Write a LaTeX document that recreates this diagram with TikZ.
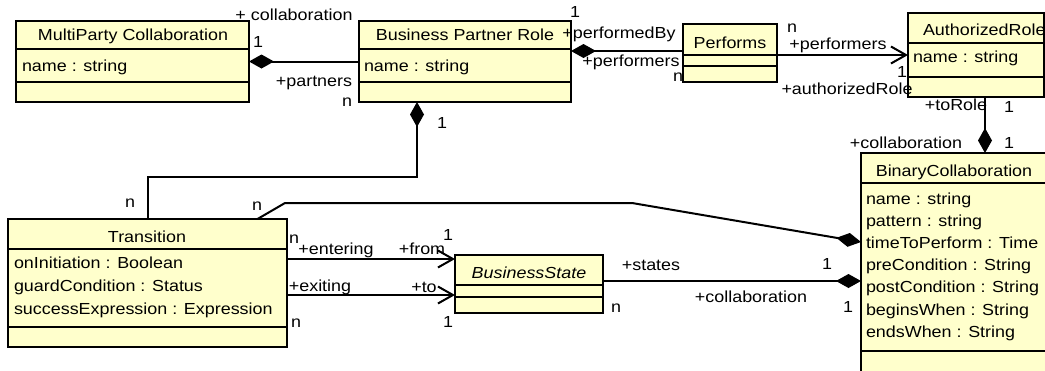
\documentclass[tikz,border=0pt]{standalone}
\usepackage{fontspec}
\setmainfont[FakeStretch=1.12]{Liberation Sans}
\usetikzlibrary{positioning, arrows.meta}
\definecolor{classfill}{RGB}{255,255,204}

\begin{document}
\begin{tikzpicture}[x=1pt, y=-1pt, line width=2pt,
    font=\fontsize{16}{19}\selectfont,
    classbox/.style={draw, fill=classfill, anchor=north west, inner sep=0, outer sep=0},
    title/.style={anchor=base, inner sep=0},
    attr/.style={anchor=base west, inner sep=0},
    role/.style={inner sep=0, text height=11pt, text depth=0pt},
    comp/.style={{Diamond[length=25pt, width=14pt]}-},
    nav/.style={-{Straight Barb[length=15pt, width=17pt]}}
    ]
    \useasboundingbox (0,0) rectangle (1045,370);

    % classes
    \node [classbox,
    minimum width=233pt,
    minimum height=81pt
    ] (mpc) at (16,21) {};
    \draw (mpc.north west) ++(0,28) -- ++(233,0) ++(-233,33) -- ++(233,0);
    \node [title] (mpc name) at (133,40) {MultiParty Collaboration};
    \node [attr] (mpc attr) at (21,71) {name : string};

    \node [classbox,
    minimum width=212pt,
    minimum height=81pt
    ] (bpr) at (359,21) {};
    \draw (bpr.north west) ++(0,28) -- ++(212,0) ++(-212,33) -- ++(212,0);
    \node [title] (bpr name) at (465,40) {Business Partner Role};
    \node [attr] (bpr attr) at (363,71) {name : string};

    \node [classbox,
    minimum width=94pt,
    minimum height=58pt
    ] (pf) at (683,24) {};
    \draw (pf.north west) ++(0,31) -- ++(94,0) ++(-94,11) -- ++(94,0);
    \node [title] (pf name) at (730,48) {Performs};

    \node [classbox,
    minimum width=136pt,
    minimum height=84pt
    ] (ar) at (908,13) {};
    \draw (ar.north west) ++(0,30) -- ++(136,0) ++(-136,34) -- ++(136,0);
    \node [title, anchor=base west] (ar name) at (922,35) {AuthorizedRole};
    \node [attr] (ar attr) at (912,62) {name : string};

    \node [classbox,
    minimum width=200pt,
    minimum height=230pt
    ] (bc) at (861,153) {};
    \draw (bc.north west) ++(0,30) -- ++(200,0) ++(-200,168) -- ++(200,0);
    \node [title] (bc name) at (954,176) {BinaryCollaboration};
    \node [attr] (bc name attr) at (865,204) {name : string};
    \node [attr] (bc pattern) at (865,226) {pattern : string};
    \node [attr] (bc time) at (865,248) {timeToPerform : Time};
    \node [attr] (bc pre) at (865,270) {preCondition : String};
    \node [attr] (bc post) at (865,292) {postCondition : String};
    \node [attr] (bc begins) at (865,315) {beginsWhen : String};
    \node [attr] (bc ends) at (865,337) {endsWhen : String};

    \node [classbox,
    minimum width=279pt,
    minimum height=128pt
    ] (tr) at (8,219) {};
    \draw (tr.north west) ++(0,30) -- ++(279,0) ++(-279,78) -- ++(279,0);
    \node [title] (tr name) at (147,242) {Transition};
    \node [attr] (tr init) at (13,268) {onInitiation : Boolean};
    \node [attr] (tr guard) at (13,291) {guardCondition : Status};
    \node [attr] (tr success) at (13,314) {successExpression : Expression};

    \node [classbox,
    minimum width=148pt,
    minimum height=58pt
    ] (bs) at (455,255) {};
    \draw (bs.north west) ++(0,30) -- ++(148,0) ++(-148,12) -- ++(148,0);
    \node [title] (bs name) at (529,278) {\itshape BusinessState};

    % associations
    \coordinate (pf link) at ([yshift=2pt]pf.west);
    \coordinate (ar link) at ([xshift=9pt]ar.south);
    \coordinate (bc tr link) at ([yshift=-89pt]bc.north west);
    \coordinate (bc bs link) at ([yshift=-128pt]bc.north west);
    \coordinate (bs in) at ([yshift=25pt]bs.west);
    \coordinate (bs out) at ([yshift=-11pt]bs.west);

    \draw [comp] (mpc.east) -- (bpr.west);
    \draw [comp] (bpr.east |- pf link) -- (pf link);
    \draw [nav] (pf.east |- ar.west) -- (ar.west);
    \draw [comp] (bc.north -| ar link) -- (ar link);
    \draw [comp]
        ([xshift=-48pt]bpr.south) --++ (0,75) -|
        (tr.north);
    \draw [comp]
        (bc tr link) --++ (-229,-39) --++ (-347,0) --
        ([xshift=110pt]tr.north);
    \draw [comp] (bc bs link) -- (bs.east |- bc bs link);
    \draw [nav] (tr.east |- bs in) -- (bs in);
    \draw [nav] (tr.east |- bs out) -- (bs out);

    % roles and multiplicities
    \node [role] (mpc coll) at (294,15) {+ collaboration};
    \node [role] (mpc one) at (258,42) {1};
    \node [role] (bpr partners) at (314,81) {+partners};
    \node [role] (bpr n) at (347,101) {n};
    \node [role] (bpr one) at (575,12) {1};
    \node [role] (performed by) at (619,33) {+performedBy};
    \node [role] (pf performers) at (631,61) {+performers};
    \node [role] (pf n) at (678,76) {n};
    \node [role] (ar n) at (792,27) {n};
    \node [role] (ar performers) at (838,44) {+performers};
    \node [role] (ar one) at (902,72) {1};
    \node [role] (authorized role) at (847,89) {+authorizedRole};
    \node [role] (to role) at (956,105) {+toRole};
    \node [role] (to role one) at (1009,107) {1};
    \node [role] (bc coll) at (906,143) {+collaboration};
    \node [role] (bc coll one) at (1009,143) {1};
    \node [role] (tr one) at (442,123) {1};
    \node [role] (tr n) at (130,202) {n};
    \node [role] (bc tr n) at (257,205) {n};
    \node [role] (entering n) at (294,238) {n};
    \node [role] (entering) at (336,249) {+entering};
    \node [role] (from) at (422,249) {+from};
    \node [role] (from one) at (448,235) {1};
    \node [role] (exiting) at (320,286) {+exiting};
    \node [role] (to state) at (424,287) {+to};
    \node [role] (to one) at (448,322) {1};
    \node [role] (exiting n) at (296,322) {n};
    \node [role] (bs n) at (616,307) {n};
    \node [role] (states) at (651,265) {+states};
    \node [role] (bs coll) at (751,297) {+collaboration};
    \node [role] (states one) at (827,264) {1};
    \node [role] (bs coll one) at (848,307) {1};
\end{tikzpicture}
\end{document}
